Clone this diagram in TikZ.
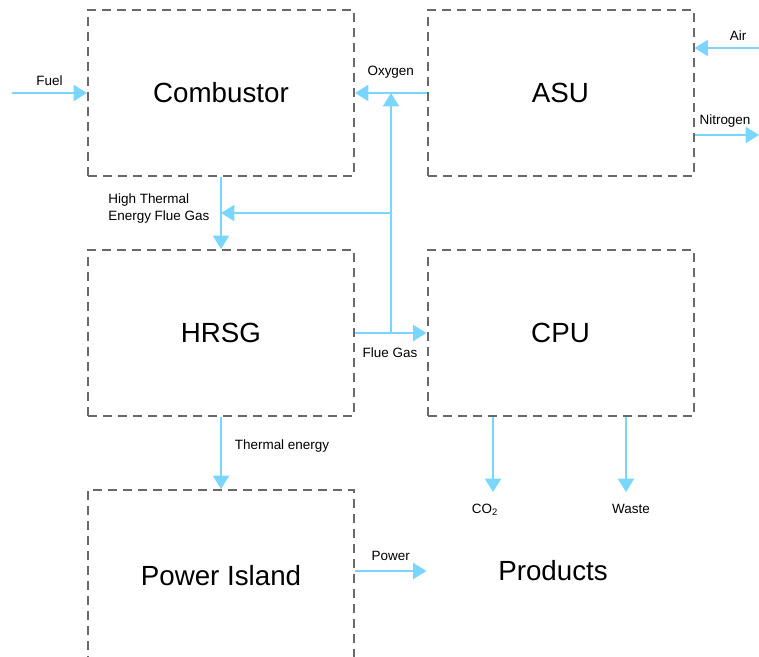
\documentclass[tikz,border=0pt]{standalone}
\usepackage{fontspec}
\setmainfont{Liberation Sans}
\usetikzlibrary{arrows.meta}
\definecolor{flowblue}{RGB}{122,214,255}
\definecolor{boxgray}{RGB}{105,105,105}
\tikzset{
  unit/.style = {draw=boxgray, line width=1.5pt, dash pattern=on 6.75pt off 4.5pt,
    minimum width=199.5pt, minimum height=124.5pt, font=\fontsize{20.8}{24}\selectfont},
  flow/.style = {draw=flowblue, line width=1.5pt, -{Triangle[width=12pt,length=10pt]}},
  tag/.style = {font=\fontsize{10.1}{12.75}\selectfont, inner sep=1pt}
}

\begin{document}
\begin{tikzpicture}[x=0.75pt,y=-0.75pt]
  \useasboundingbox (0,0) rectangle (759,656);
  \node[unit] (comb) at (221,93) {Combustor};
  \node[unit] (asu) at (560.5,93) {ASU};
  \node[unit] (hrsg) at (221,333) {HRSG};
  \node[unit] (cpu) at (560.5,333) {CPU};
  \node[unit, minimum height=129pt] (power) at (221,576) {Power Island};
  \node[font=\fontsize{20.8}{24}\selectfont] (prod) at (553,571) {Products};
  \coordinate (fuelin) at (12,93);
  \coordinate (airin) at (759,48);
  \coordinate (n2out) at (759,135);
  \coordinate (fg) at (391,333);
  \coordinate (ox) at (391,93);
  \coordinate (hg) at (391,213);
  \coordinate (co2) at (493,492);
  \coordinate (waste) at (626,492);
  % streams
  \draw[flow] (fuelin) -- node[tag, above=4pt] {Fuel} (comb.west);
  \draw[flow] (asu.west) -- node[tag, above=9pt] {Oxygen} (comb.east);
  \draw[flow] (airin) -- (asu.east |- airin);
  \node[tag] at (738,36) {Air};
  \draw[flow] (asu.east |- n2out) -- (n2out);
  \node[tag] at (725,121) {Nitrogen};
  \draw[flow] (comb.south) -- (hrsg.north);
  \node[tag, align=left, anchor=east] at (211,208.5) {High Thermal\\Energy Flue Gas};
  \draw[flow] (hrsg.east) -- (cpu.west);
  \node[tag] at (390,353) {Flue Gas};
  \draw[flow] (fg) -- (ox);
  \draw[flow] (hg) -- (comb.south |- hg);
  \draw[flow] (hrsg.south) -- (power.north);
  \node[tag] at (282,446) {Thermal energy};
  \draw[flow] (cpu.south -| co2) -- (co2);
  \node[tag] at (485,510) {CO\textsubscript{2}};
  \draw[flow] (cpu.south -| waste) -- (waste);
  \node[tag] at (631,509) {Waste};
  \draw[flow] (power.east |- prod) -- node[tag, above=6pt] {Power} (cpu.west |- prod);
\end{tikzpicture}
\end{document}
